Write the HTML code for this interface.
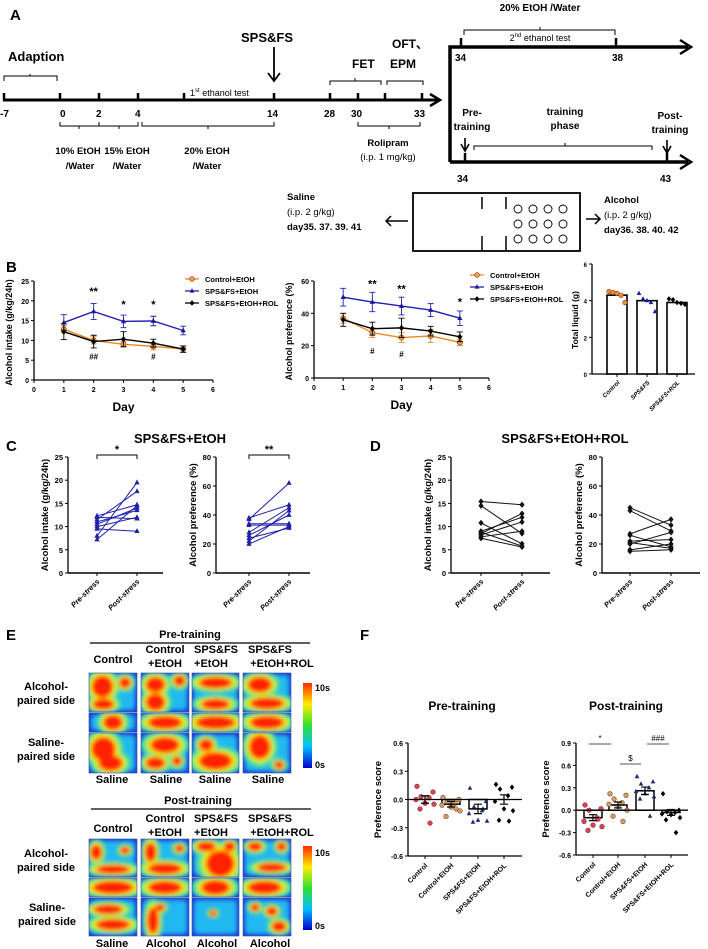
<!DOCTYPE html>
<html><head><meta charset="utf-8"><style>
html,body{margin:0;padding:0;background:#fff;}
svg{display:block;font-family:"Liberation Sans",Arial,sans-serif;}
.b{font-weight:bold;}
</style></head><body>
<svg id="fig" width="708" height="949" viewBox="0 0 708 949">
<defs>
<filter id="blur" x="-20%" y="-20%" width="140%" height="140%"><feGaussianBlur stdDeviation="2.2"/></filter>
<linearGradient id="cbar" x1="0" y1="1" x2="0" y2="0">
<stop offset="0" stop-color="#0000c8"/><stop offset="0.25" stop-color="#00c0ff"/><stop offset="0.5" stop-color="#30e030"/><stop offset="0.75" stop-color="#ffee00"/><stop offset="1" stop-color="#ff2a00"/></linearGradient>
</defs>

<!-- Panel A -->
<g class="b" font-size="11">
<text x="10" y="20" font-size="15">A</text>
<text x="8" y="61" font-size="13">Adaption</text>
<path d="M4,81 V76 H57 V81 M30,76 V74" fill="none" stroke="#000" stroke-width="1"/>
<line x1="3" y1="100" x2="438" y2="100" stroke="#000" stroke-width="3"/>
<path d="M430,94 L440,100 L430,106" fill="none" stroke="#000" stroke-width="2.5"/>
<g stroke="#000" stroke-width="2.5">
<line x1="4" y1="93" x2="4" y2="100"/><line x1="60" y1="93" x2="60" y2="100"/><line x1="99" y1="93" x2="99" y2="100"/><line x1="138" y1="93" x2="138" y2="100"/><line x1="184" y1="93" x2="184" y2="100"/><line x1="274" y1="93" x2="274" y2="100"/><line x1="330" y1="93" x2="330" y2="100"/><line x1="358" y1="93" x2="358" y2="100"/><line x1="385" y1="93" x2="385" y2="100"/><line x1="422" y1="93" x2="422" y2="100"/>
</g>
<g font-size="10">
<text x="0" y="117">-7</text><text x="60" y="117">0</text><text x="96" y="117">2</text><text x="135" y="117">4</text><text x="267" y="117">14</text><text x="324" y="117">28</text><text x="351" y="117">30</text><text x="414" y="117">33</text>
</g>
<text x="190" y="96" font-size="9" font-weight="normal">1<tspan font-size="6" dy="-4">st</tspan><tspan dy="4"> ethanol test</tspan></text>
<text x="241" y="42" font-size="13">SPS&amp;FS</text>
<path d="M274,47 V80 M268,73 L274,81 L280,73" fill="none" stroke="#000" stroke-width="1.8"/>
<text x="352" y="68" font-size="12">FET</text>
<text x="392" y="48" font-size="12">OFT、</text>
<text x="390" y="68" font-size="12">EPM</text>
<path d="M330,85 V81 H381 V85 M355,81 V78 M387,85 V81 H423 V85" fill="none" stroke="#000" stroke-width="1"/>
<path d="M60,122 V126 H99 V122 M79,126 V129 M99,126 H138 V122 M119,126 V129 M142,122 V126 H274 V122 M208,126 V129 M358,122 V126 H420 V122 M389,126 V129" fill="none" stroke="#000" stroke-width="1"/>
<g font-size="9.5" text-anchor="middle">
<text x="78" y="154">10% EtOH</text><text x="80" y="169">/Water</text>
<text x="127" y="154">15% EtOH</text><text x="127" y="169">/Water</text>
<text x="207" y="154">20% EtOH</text><text x="207" y="169">/Water</text>
<text x="388" y="146">Rolipram</text><text x="388" y="160" font-weight="normal">(i.p.  1 mg/kg)</text>
</g>
<path d="M450,162 V47 H688" fill="none" stroke="#000" stroke-width="3.5"/>
<path d="M680,40 L691,47 L680,54" fill="none" stroke="#000" stroke-width="2.5"/>
<path d="M450,162 H688" fill="none" stroke="#000" stroke-width="3.5"/>
<path d="M680,155 L691,162 L680,169" fill="none" stroke="#000" stroke-width="2.5"/>
<g stroke="#000" stroke-width="2.5"><line x1="461" y1="38" x2="461" y2="47"/><line x1="616" y1="38" x2="616" y2="47"/><line x1="465" y1="153" x2="465" y2="162"/><line x1="667" y1="153" x2="667" y2="162"/></g>
<text x="540" y="11" text-anchor="middle" font-size="10">20% EtOH /Water</text>
<path d="M464,35 V30 H615 V35 M540,30 V27" fill="none" stroke="#000" stroke-width="1"/>
<text x="540" y="41" text-anchor="middle" font-size="9" font-weight="normal">2<tspan font-size="6" dy="-4">nd</tspan><tspan dy="4"> ethanol test</tspan></text>
<g font-size="10"><text x="455" y="61">34</text><text x="612" y="61">38</text><text x="457" y="182">34</text><text x="660" y="182">43</text></g>
<g font-size="10" text-anchor="middle">
<text x="472" y="116">Pre-</text><text x="472" y="130">training</text>
<text x="565" y="115">training</text><text x="565" y="129">phase</text>
<text x="670" y="119">Post-</text><text x="670" y="133">training</text>
</g>
<path d="M465,138 V150 M461,144 L465,151 L469,144 M667,140 V152 M663,146 L667,153 L671,146" fill="none" stroke="#000" stroke-width="1.6"/>
<path d="M474,150 V146 H652 V150 M565,146 V143" fill="none" stroke="#000" stroke-width="1"/>
<rect x="413" y="193" width="167" height="58" fill="none" stroke="#000" stroke-width="1.8"/>
<path d="M482,197 V209 M506,197 V209 M482,236 V251 M506,236 V251" stroke="#000" stroke-width="1.5"/>
<g fill="none" stroke="#000" stroke-width="0.9" id="circles"></g>
<g font-size="9.5">
<text x="287" y="200">Saline</text><text x="287" y="215" font-weight="normal">(i.p. 2 g/kg)</text><text x="287" y="230">day35. 37. 39. 41</text>
<text x="604" y="203">Alcohol</text><text x="604" y="218" font-weight="normal">(i.p. 2 g/kg)</text><text x="604" y="233">day36. 38. 40. 42</text>
</g>
<path d="M408,221 H386 M391,216 L386,221 L391,226 M586,219 H600 M595,214 L600,219 L595,224" fill="none" stroke="#000" stroke-width="1.5"/>
</g>

<!-- Panel letters -->
<g class="b" font-size="15">
<text x="6" y="272">B</text>
<text x="6" y="451">C</text>
<text x="370" y="451">D</text>
<text x="6" y="640">E</text>
<text x="360" y="640">F</text>
</g>
<text x="180" y="443" class="b" font-size="13" text-anchor="middle">SPS&amp;FS+EtOH</text>
<text x="565" y="443" class="b" font-size="13" text-anchor="middle">SPS&amp;FS+EtOH+ROL</text>

<g id="charts"></g>

<!-- Panel E -->
<g id="panelE" class="b" font-size="11">
<text x="190" y="638" text-anchor="middle">Pre-training</text>
<line x1="90" y1="643" x2="310" y2="643" stroke="#000" stroke-width="1.2"/>
<text x="113" y="663" text-anchor="middle">Control</text>
<text x="165" y="653" text-anchor="middle">Control</text><text x="165" y="667" text-anchor="middle">+EtOH</text>
<text x="216" y="653" text-anchor="middle">SPS&amp;FS</text><text x="211" y="667" text-anchor="middle">+EtOH</text>
<text x="270" y="653" text-anchor="middle">SPS&amp;FS</text><text x="282" y="667" text-anchor="middle">+EtOH+ROL</text>
<text x="46" y="690" text-anchor="middle">Alcohol-</text><text x="46" y="704" text-anchor="middle">paired side</text>
<text x="46" y="746" text-anchor="middle">Saline-</text><text x="46" y="760" text-anchor="middle">paired side</text>
<g text-anchor="middle"><text x="112" y="783">Saline</text><text x="166" y="783">Saline</text><text x="215" y="783">Saline</text><text x="268" y="783">Saline</text></g>
<text x="198" y="804" text-anchor="middle">Post-training</text>
<line x1="91" y1="809" x2="311" y2="809" stroke="#000" stroke-width="1.2"/>
<text x="113" y="832" text-anchor="middle">Control</text>
<text x="165" y="822" text-anchor="middle">Control</text><text x="165" y="836" text-anchor="middle">+EtOH</text>
<text x="216" y="822" text-anchor="middle">SPS&amp;FS</text><text x="211" y="836" text-anchor="middle">+EtOH</text>
<text x="270" y="822" text-anchor="middle">SPS&amp;FS</text><text x="282" y="836" text-anchor="middle">+EtOH+ROL</text>
<text x="46" y="857" text-anchor="middle">Alcohol-</text><text x="46" y="871" text-anchor="middle">paired side</text>
<text x="47" y="911" text-anchor="middle">Saline-</text><text x="47" y="925" text-anchor="middle">paired side</text>
<g text-anchor="middle"><text x="112" y="947">Saline</text><text x="166" y="947">Alcohol</text><text x="217" y="947">Alcohol</text><text x="270" y="947">Alcohol</text></g>
<rect x="303" y="683" width="9" height="85" fill="url(#cbar)"/>
<text x="315" y="691" font-size="9">10s</text><text x="315" y="768" font-size="9">0s</text>
<rect x="303" y="846" width="9" height="84" fill="url(#cbar)"/>
<text x="315" y="856" font-size="9">10s</text><text x="315" y="929" font-size="9">0s</text>
</g>

<!-- Panel F titles -->
<g class="b" font-size="12" text-anchor="middle">
<text x="462" y="710">Pre-training</text>
<text x="626" y="710">Post-training</text>
</g>
</svg>

<script>
// ===== Panel B data =====
const days = [1, 2, 3, 4, 5];
const intakeControl = [12.8, 10.0, 9.0, 8.5, 7.8];
const intakeControlErr = [0.9, 0.9, 0.7, 0.9, 0.8];
const intakeSps = [14.5, 17.3, 14.8, 14.9, 12.5];
const intakeSpsErr = [2.0, 2.0, 1.6, 1.2, 1.1];
const intakeRol = [12.2, 9.7, 10.3, 9.3, 7.8];
const intakeRolErr = [2.0, 1.6, 1.9, 1.0, 0.8];
const prefControl = [37, 28, 25, 26, 22];
const prefControlErr = [3, 3, 3, 4, 2];
const prefSps = [50, 47, 44.5, 42, 37];
const prefSpsErr = [5.5, 6, 5.5, 4, 4.5];
const prefRol = [36, 30.5, 31, 29, 25.5];
const prefRolErr = [4, 4, 6, 3, 3];
const intakeTicks = [0, 5, 10, 15, 20, 25];
const prefTicks = [0, 20, 40, 60];
const dayTicks = [0, 1, 2, 3, 4, 5, 6];
const totalGroups = ["Control", "SPS&FS", "SPS&FS+ROL"];
const totalMeans = [4.3, 4.0, 3.9];
const totalPoints = [[4.5, 4.45, 4.4, 4.3, 3.9], [4.4, 4.1, 4.0, 3.9, 3.4], [4.1, 4.05, 3.9, 3.85, 3.8]];
const totalTicks = [0, 2, 4, 6];
// ===== Panel C/D data =====
const cIntakePre = [12.3, 12.0, 11.5, 11.0, 10.5, 10.0, 9.5, 8.0, 7.2];
const cIntakePost = [14.7, 11.7, 17.6, 13.5, 14.0, 12.0, 9.0, 19.5, 14.5];
const cPrefPre = [38, 37, 34, 33, 28, 26, 24, 22, 20];
const cPrefPost = [47, 62, 34, 33, 45, 40, 31, 43, 32];
const dIntakePre = [15.4, 14.5, 10.8, 9.0, 8.8, 8.5, 8.2, 7.8, 7.5];
const dIntakePost = [14.7, 8.5, 6.3, 12.0, 5.8, 12.8, 11.0, 9.0, 5.6];
const dPrefPre = [45, 43, 27, 26, 22, 21, 20, 16, 15];
const dPrefPost = [33, 29, 37, 18, 23, 17, 28, 20, 16];
const cdIntakeTicks = [0, 5, 10, 15, 20, 25];
const cdPrefTicks = [0, 20, 40, 60, 80];
const stressCats = ["Pre-stress", "Post-stress"];
// ===== Panel F data =====
const fGroups = ["Control", "Control+EtOH", "SPS&FS+EtOH", "SPS&FS+EtOH+ROL"];
const fPreMeans = [0.0, -0.05, -0.1, 0.0];
const fPreSem = [0.04, 0.03, 0.05, 0.05];
const fPrePoints = [[0.14, 0.08, 0.03, 0.02, 0.0, -0.04, -0.05, -0.1, -0.25],
  [0.02, 0.0, -0.03, -0.04, -0.06, -0.08, -0.12, -0.18, -0.1],
  [0.12, -0.02, -0.08, -0.12, -0.15, -0.22, -0.23, -0.24, -0.1],
  [0.16, 0.13, 0.11, 0.04, -0.02, -0.1, -0.12, -0.22, -0.23]];
const fPostMeans = [-0.1, 0.07, 0.26, -0.03];
const fPostSem = [0.04, 0.04, 0.05, 0.04];
const fPostPoints = [[0.07, 0.02, 0.0, -0.1, -0.15, -0.2, -0.22, -0.27, -0.12],
  [0.22, 0.2, 0.15, 0.1, 0.08, 0.05, 0.0, -0.08, -0.15],
  [0.45, 0.38, 0.35, 0.3, 0.25, 0.22, 0.18, 0.15, -0.08],
  [0.22, 0.0, -0.02, -0.03, -0.05, -0.06, -0.1, -0.13, -0.3]];
const fPreTicks = [-0.6, -0.3, 0.0, 0.3, 0.6];
const fPostTicks = [-0.6, -0.3, 0.0, 0.3, 0.6, 0.9];

const NS = "http://www.w3.org/2000/svg";
const root = document.getElementById("charts");
function mk(tag, attrs, parent) {
  const e = document.createElementNS(NS, tag);
  for (const k in attrs) e.setAttribute(k, attrs[k]);
  (parent || root).appendChild(e);
  return e;
}
function txt(s, x, y, attrs, parent) {
  const t = mk("text", Object.assign({x: x, y: y}, attrs || {}), parent);
  t.textContent = s;
  return t;
}
function lin(d0, d1, r0, r1) { return v => r0 + (v - d0) * (r1 - r0) / (d1 - d0); }
function marker(shape, x, y, color, r, parent, name) {
  let m;
  if (shape === "circle") m = mk("circle", {cx: x, cy: y, r: r, fill: color, stroke: "#8a3a10", "stroke-width": 0.6}, parent);
  else if (shape === "tri") m = mk("path", {d: `M${x},${y - r * 1.2} L${x + r},${y + r * 0.7} L${x - r},${y + r * 0.7}Z`, fill: color}, parent);
  else m = mk("path", {d: `M${x},${y - r * 1.2} L${x + r},${y} L${x},${y + r * 1.2} L${x - r},${y}Z`, fill: color}, parent);
  
  
  return m;
}
function yAxis(g, x, ys, ticks, fmt, fs) {
  mk("line", {x1: x, y1: ys(ticks[0]), x2: x, y2: ys(ticks[ticks.length - 1]), stroke: "#000", "stroke-width": 1.3}, g);
  ticks.forEach(t => {
    mk("line", {x1: x - 3, y1: ys(t), x2: x, y2: ys(t), stroke: "#000", "stroke-width": 1}, g);
    const l = txt(fmt(t), x - 5, ys(t) + 3, {"font-size": fs, "text-anchor": "end", "font-weight": "bold"}, g);
    
    
  });
}
function yTitle(g, s, x, y, fs) {
  const t = txt(s, x, y, {"font-size": fs, "text-anchor": "middle", "font-weight": "bold", transform: `rotate(-90 ${x} ${y})`}, g);
  
  
}

// ===== B line charts =====
function lineChart(name, x0, x1, y0v, y0, ymax, ymaxPx, ticks, series, legendX, legendY, title, stars, hashes) {
  const g = mk("g", {});
  
  
  const xs = lin(0, 6, x0, x1), ys = lin(0, ymax, y0, ymaxPx);
  yAxis(g, x0, ys, ticks, t => t, 7);
  mk("line", {x1: x0, y1: y0, x2: x1, y2: y0, stroke: "#000", "stroke-width": 1.3}, g);
  dayTicks.forEach(d => {
    mk("line", {x1: xs(d), y1: y0, x2: xs(d), y2: y0 + 3, stroke: "#000"}, g);
    txt(String(d), xs(d), y0 + 12, {"font-size": 7, "text-anchor": "middle", "font-weight": "bold"}, g);
  });
  const dl = txt("Day", (x0 + x1) / 2, y0 + 31, {"font-size": 12, "text-anchor": "middle", "font-weight": "bold"}, g);
  
  
  yTitle(g, title, x0 - 22, (y0 + ymaxPx) / 2 + 2, 9);
  series.forEach((s, si) => {
    const sg = mk("g", {}, g);
    
    
    days.forEach((d, i) => {
      mk("path", {d: `M${xs(d)},${ys(s.v[i] - s.e[i])} V${ys(s.v[i] + s.e[i])} M${xs(d) - 3},${ys(s.v[i] + s.e[i])} H${xs(d) + 3} M${xs(d) - 3},${ys(s.v[i] - s.e[i])} H${xs(d) + 3}`, stroke: s.c, fill: "none", "stroke-width": 0.9}, sg);
    });
    const line = mk("polyline", {points: days.map((d, i) => xs(d) + "," + ys(s.v[i])).join(" "), fill: "none", stroke: s.c, "stroke-width": 1.4}, sg);
    
    
    days.forEach((d, i) => marker(s.m, xs(d), ys(s.v[i]), s.fill, 2.6, sg, 'point-' + s.key));
    const ly = legendY + si * 12;
    mk("line", {x1: legendX, y1: ly, x2: legendX + 14, y2: ly, stroke: s.c, "stroke-width": 1.3}, g);
    marker(s.m, legendX + 7, ly, s.fill, 2.4, g, 'legend-marker');
    const lt = txt(s.label, legendX + 20, ly + 3, {"font-size": 7.5, "font-weight": "bold"}, g);
    
    
  });
  stars.forEach(s => txt(s[1], xs(s[0]), ys(s[2]), {"font-size": 11, "text-anchor": "middle", "font-weight": "bold"}, g));
  hashes.forEach(s => txt(s[1], xs(s[0]), ys(s[2]), {"font-size": 8, "text-anchor": "middle", "font-weight": "bold"}, g));
}
lineChart("intake-line-chart", 34, 213, 0, 380, 25, 281, intakeTicks, [
  {key: "control", v: intakeControl, e: intakeControlErr, c: "#e8891e", fill: "#f0a050", m: "circle", label: "Control+EtOH"},
  {key: "sps", v: intakeSps, e: intakeSpsErr, c: "#2020b0", fill: "#1c1c9a", m: "tri", label: "SPS&FS+EtOH"},
  {key: "rol", v: intakeRol, e: intakeRolErr, c: "#000", fill: "#000", m: "diamond", label: "SPS&FS+EtOH+ROL"}],
  185, 279, "Alcohol intake (g/kg/24h)", [[2, "**", 21.5], [3, "*", 18.2], [4, "*", 18.2]], [[2, "##", 5.2], [4, "#", 5.2]]);
lineChart("preference-line-chart", 314, 489, 0, 378, 60, 281, prefTicks, [
  {key: "control", v: prefControl, e: prefControlErr, c: "#e8891e", fill: "#f0a050", m: "circle", label: "Control+EtOH"},
  {key: "sps", v: prefSps, e: prefSpsErr, c: "#2020b0", fill: "#1c1c9a", m: "tri", label: "SPS&FS+EtOH"},
  {key: "rol", v: prefRol, e: prefRolErr, c: "#000", fill: "#000", m: "diamond", label: "SPS&FS+EtOH+ROL"}],
  470, 275, "Alcohol preference (%)", [[2, "**", 56], [3, "**", 53], [5, "*", 45]], [[2, "#", 15], [3, "#", 13]]);

// ===== B total liquid bar =====
(function () {
  const g = mk("g", {});
  
  
  const ys = lin(0, 6, 374, 264), x0 = 592, bx = i => 617 + i * 30;
  yAxis(g, x0, ys, totalTicks, t => t, 6);
  mk("line", {x1: x0, y1: 374, x2: 695, y2: 374, stroke: "#000", "stroke-width": 1.3}, g);
  yTitle(g, "Total liquid (g)", x0 - 14, 320, 8.5);
  const cols = ["#e09040", "#1c1c9a", "#000"], shapes = ["circle", "tri", "diamond"];
  totalGroups.forEach((name, i) => {
    const b = mk("rect", {x: bx(i) - 10, y: ys(totalMeans[i]), width: 20, height: 374 - ys(totalMeans[i]), fill: "#fff", stroke: "#000", "stroke-width": 1.6}, g);
    
    
    totalPoints[i].forEach((p, j) => marker(shapes[i], bx(i) - 8 + j * 4, ys(p), cols[i], 2.3, g, 'total-point'));
    mk("line", {x1: bx(i), y1: 374, x2: bx(i), y2: 377, stroke: "#000"}, g);
    txt(name, bx(i) + 3, 383, {"font-size": 6, "font-style": "italic", "font-weight": "bold", "text-anchor": "end", transform: `rotate(-45 ${bx(i) + 3} 383)`}, g);
  });
})();

// ===== C/D paired charts =====
function pairChart(name, x0, xPre, xPost, xEnd, ticks, ymax, pre, post, color, shape, title, star) {
  const g = mk("g", {});
  
  
  const ys = lin(0, ymax, 573, 457);
  yAxis(g, x0, ys, ticks, t => t, 7.5);
  mk("line", {x1: x0, y1: 573, x2: xEnd, y2: 573, stroke: "#000", "stroke-width": 1.6}, g);
  yTitle(g, title, x0 - 20, 515, 9.5);
  [xPre, xPost].forEach((x, i) => {
    mk("line", {x1: x, y1: 573, x2: x, y2: 576, stroke: "#000"}, g);
    const t = txt(stressCats[i], x + 3, 582, {"font-size": 7.5, "font-style": "italic", "font-weight": "bold", "text-anchor": "end", transform: `rotate(-45 ${x + 3} 582)`}, g);
    
    
  });
  pre.forEach((v, i) => {
    const l = mk("line", {x1: xPre, y1: ys(v), x2: xPost, y2: ys(post[i]), stroke: color, "stroke-width": 1}, g);
    
    
    marker(shape, xPre, ys(v), color, 2.6, g, 'pre-point');
    marker(shape, xPost, ys(post[i]), color, 2.6, g, 'post-point');
  });
  if (star) {
    mk("path", {d: `M${xPre},${459} V455 H${xPost} V459`, fill: "none", stroke: "#000"}, g);
    txt(star, (xPre + xPost) / 2, 453, {"font-size": 11, "text-anchor": "middle", "font-weight": "bold"}, g);
  }
}
pairChart("c-intake-chart", 68, 97, 137, 163, cdIntakeTicks, 25, cIntakePre, cIntakePost, "#2020a8", "tri", "Alcohol intake (g/kg/24h)", "*");
pairChart("c-preference-chart", 216, 249, 289, 310, cdPrefTicks, 80, cPrefPre, cPrefPost, "#2020a8", "tri", "Alcohol preference (%)", "**");
pairChart("d-intake-chart", 451, 481, 522, 550, cdIntakeTicks, 25, dIntakePre, dIntakePost, "#111", "diamond", "Alcohol intake (g/kg/24h)", null);
pairChart("d-preference-chart", 602, 630, 671, 700, cdPrefTicks, 80, dPrefPre, dPrefPost, "#111", "diamond", "Alcohol preference (%)", null);

// ===== F scatter-bar charts =====
function fChart(name, x0, xEnd, cx, ticks, y0v, yTopV, yBot, yTop, means, sems, points) {
  const g = mk("g", {});
  
  
  const ys = lin(y0v, yTopV, yBot, yTop);
  yAxis(g, x0, ys, ticks, t => t.toFixed(1), 7);
  mk("line", {x1: x0, y1: yBot, x2: xEnd, y2: yBot, stroke: "#000", "stroke-width": 1.3}, g);
  yTitle(g, "Preference score", x0 - 27, (yBot + yTop) / 2, 9.5);
  const cols = ["#c84a5a", "#c9a070", "#1f2a6e", "#000"], shapes = ["circle", "circle", "tri", "diamond"];
  const jit = [-8, 8, -4, 4, -9, 0, 9, -5, 5];
  fGroups.forEach((gn, i) => {
    const x = cx[i];
    const b = mk("rect", {x: x - 9, y: Math.min(ys(0), ys(means[i])), width: 18, height: Math.abs(ys(0) - ys(means[i])), fill: "#fff", stroke: "#000", "stroke-width": 1.5}, g);
    
    
    points[i].forEach((p, j) => {
      const m = marker(shapes[i], x + jit[j], ys(p), cols[i], 2.3, g, 'score-point');
      if (i === 0) { m.setAttribute("fill", "#c84a5a"); m.setAttribute("stroke", "#a02030"); }
    });
    mk("path", {d: `M${x},${ys(means[i] - sems[i])} V${ys(means[i] + sems[i])} M${x - 4},${ys(means[i] + sems[i])} H${x + 4} M${x - 4},${ys(means[i] - sems[i])} H${x + 4} M${x - 6},${ys(means[i])} H${x + 6}`, stroke: "#000", fill: "none", "stroke-width": 1.2}, g);
    mk("line", {x1: x, y1: yBot, x2: x, y2: yBot + 3, stroke: "#000"}, g);
    const t = txt(gn, x + 3, yBot + 10, {"font-size": 7, "font-weight": "bold", "text-anchor": "end", transform: `rotate(-45 ${x + 3} ${yBot + 10})`}, g);
    
    
  });
  mk("line", {x1: x0, y1: ys(0), x2: xEnd, y2: ys(0), stroke: "#000", "stroke-width": 1.3}, g);
  return {g: g, ys: ys};
}
fChart("f-pre-chart", 408, 522, [425, 451, 478, 504], fPreTicks, -0.6, 0.6, 856, 743, fPreMeans, fPreSem, fPrePoints);
const post = fChart("f-post-chart", 576, 688, [593, 618, 645, 671], fPostTicks, -0.6, 0.9, 855, 743, fPostMeans, fPostSem, fPostPoints);
[[589, 611, "*", 738], [620, 641, "$", 758], [647, 669, "###", 738]].forEach(s => {
  mk("line", {x1: s[0], y1: s[3] + 6, x2: s[1], y2: s[3] + 6, stroke: "#555", "stroke-width": 1}, post.g);
  txt(s[2], (s[0] + s[1]) / 2, s[3] + 3, {"font-size": 8, "text-anchor": "middle"}, post.g);
});

// ===== A circles =====
const cg = document.getElementById("circles");
for (let r = 0; r < 3; r++) for (let c = 0; c < 4; c++) {
  const ci = mk("circle", {cx: 518 + c * 15, cy: 209 + r * 15, r: 4}, cg);
  
  
}

// ===== E heatmaps =====
const E = document.getElementById("panelE");
const colsX = [[89, 137], [141, 189], [192, 239], [243, 291]];
const rowsPre = [[673, 712], [713, 732], [733, 773]];
const rowsPost = [[839, 877], [878, 897], [898, 936]];
const blobs = [
  [[[.28, .35, .22, .28], [.75, .25, .12, .14], [.3, .8, .22, .14]], [[.5, .5, .2, .4]], [[.3, .4, .25, .3], [.45, .75, .25, .2]]],
  [[[.3, .3, .2, .2], [.8, .2, .12, .14], [.3, .75, .2, .22]], [[.5, .5, .35, .35]], [[.5, .3, .3, .2], [.3, .75, .2, .15], [.75, .7, .1, .12]]],
  [[[.5, .25, .35, .15], [.5, .8, .3, .14]], [[.5, .5, .42, .35]], [[.5, .7, .35, .22], [.3, .3, .15, .15]]],
  [[[.35, .3, .25, .2], [.5, .78, .35, .15]], [[.5, .5, .35, .35]], [[.35, .35, .22, .3], [.75, .8, .1, .1]]]
];
const blobsPost = [
  [[[.15, .35, .12, .2], [.75, .3, .1, .1], [.5, .8, .35, .12]], [[.5, .5, .42, .35]], [[.4, .3, .3, .13], [.5, .7, .35, .15]]],
  [[[.2, .35, .12, .25], [.5, .78, .35, .15], [.8, .25, .1, .1]], [[.5, .5, .35, .35]], [[.25, .6, .12, .35], [.4, .25, .1, .1]]],
  [[[.3, .2, .2, .13], [.8, .2, .12, .13], [.6, .65, .3, .35]], [[.5, .5, .3, .4]], [[.45, .4, .08, .08]]],
  [[[.25, .2, .15, .12], [.8, .2, .1, .12], [.6, .75, .3, .12]], [[.45, .5, .35, .35]], [[.25, .25, .1, .1], [.75, .75, .15, .14], [.6, .35, .12, .12]]]
];
let clipN = 0;
function heat(x0, x1, y0, y1, list, name) {
  const id = "cl" + (clipN++);
  const defs = document.querySelector("defs");
  const cp = mk("clipPath", {id: id}, defs);
  mk("rect", {x: x0, y: y0, width: x1 - x0, height: y1 - y0}, cp);
  const g = mk("g", {"clip-path": `url(#${id})`}, E);
  
  
  mk("rect", {x: x0, y: y0, width: x1 - x0, height: y1 - y0, fill: "#1a3cd8"}, g);
  mk("rect", {x: x0 + 2, y: y0 + 2, width: x1 - x0 - 4, height: y1 - y0 - 4, fill: "#22b8f0", rx: 4, filter: "url(#blur)"}, g);
  const w = x1 - x0, h = y1 - y0;
  const layers = [[1.7, "#40e0a0"], [1.4, "#a0f040"], [1.2, "#ffe000"], [1.0, "#ff2200"]];
  const bg = mk("g", {filter: "url(#blur)"}, g);
  layers.forEach(L => list.forEach(b => mk("ellipse", {cx: x0 + b[0] * w, cy: y0 + b[1] * h, rx: b[2] * w * L[0], ry: b[3] * h * L[0], fill: L[1]}, bg)));
  mk("rect", {x: x0, y: y0, width: w, height: h, fill: "none", stroke: "#3050a0", "stroke-width": 0.6}, E);
}
colsX.forEach((c, i) => {
  rowsPre.forEach((r, j) => heat(c[0], c[1], r[0], r[1], blobs[i][j], 'heatmap-pre-' + i + '-' + j));
  rowsPost.forEach((r, j) => heat(c[0], c[1], r[0], r[1], blobsPost[i][j], 'heatmap-post-' + i + '-' + j));
});
</script>
</body></html>
